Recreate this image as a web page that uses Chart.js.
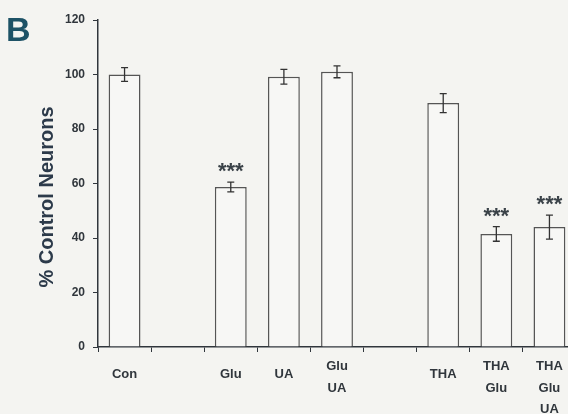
<!DOCTYPE html>
<html>
<head>
<meta charset="utf-8">
<script src="https://cdn.jsdelivr.net/npm/chart.js@4"></script>
<style>
  html, body { margin: 0; padding: 0; background: #f4f4f1; overflow: hidden; }
  #wrap { width: 576px; height: 414px; }
</style>
</head>
<body>
<div id="wrap"><canvas id="chart" width="576" height="414"></canvas></div>
<script>
// data
const groups = [['Con'], '', ['Glu'], ['UA'], ['Glu', 'UA'], '', ['THA'], ['THA', 'Glu'], ['THA', 'Glu', 'UA']];
const percentControl = [100, null, 58.7, 99.2, 101, null, 89.5, 41.5, 44];
const sem = [2.5, null, 1.8, 2.7, 2.2, null, 3.5, 2.7, 4.4];
const marks = ['', '', '***', '', '', '', '', '***', '***'];
const yTicks = [0, 20, 40, 60, 80, 100, 120];

const ink = '#30363c';
const fontFamily = '"Liberation Sans", Arial, sans-serif';

// error bars + significance stars
const errorBars = {
    id: 'errorBars',
    afterDatasetsDraw(chart) {
        const ctx = chart.ctx;
        const y = chart.scales.y;
        const bars = chart.getDatasetMeta(0).data;
        ctx.save();
        ctx.strokeStyle = '#333';
        ctx.lineWidth = 1.3;
        bars.forEach((bar, i) => {
            if (percentControl[i] == null) return;
            const x = bar.x;
            const top = y.getPixelForValue(percentControl[i] + sem[i]);
            const bot = y.getPixelForValue(percentControl[i] - sem[i]);
            ctx.beginPath();
            ctx.moveTo(x, top); ctx.lineTo(x, bot);
            ctx.moveTo(x - 3.5, top); ctx.lineTo(x + 3.5, top);
            ctx.moveTo(x - 3.5, bot); ctx.lineTo(x + 3.5, bot);
            ctx.stroke();
            if (marks[i]) {
                ctx.fillStyle = '#3a4248';
                ctx.font = 'bold 22px ' + fontFamily;
                ctx.textAlign = 'center';
                ctx.textBaseline = 'alphabetic';
                ctx.fillText(marks[i], x, top - 4);
            }
        });
        ctx.restore();
    }
};

// panel letter and y title
const labelsPlugin = {
    id: 'labelsPlugin',
    afterDraw(chart) {
        const ctx = chart.ctx;
        ctx.save();
        ctx.fillStyle = '#1d5266';
        ctx.font = 'bold 34px ' + fontFamily;
        ctx.textAlign = 'left';
        ctx.textBaseline = 'alphabetic';
        ctx.fillText('B', 6, 41);

        ctx.fillStyle = '#2c3a4a';
        ctx.font = 'bold 20px ' + fontFamily;
        ctx.translate(47, 197);
        ctx.rotate(-Math.PI / 2);
        ctx.textAlign = 'center';
        ctx.textBaseline = 'middle';
        ctx.fillText('% Control Neurons', 0, 0);
        ctx.restore();
    }
};

new Chart(document.getElementById('chart'), {
    type: 'bar',
    data: {
        labels: groups,
        datasets: [{
            data: percentControl,
            backgroundColor: '#f7f7f5',
            borderColor: '#555',
            borderWidth: 1.5,
            barPercentage: 0.6,
            categoryPercentage: 1
        }]
    },
    options: {
        responsive: false,
        animation: false,
        layout: { padding: { left: 0, right: 0, top: 20, bottom: 0 } },
        plugins: { legend: { display: false }, tooltip: { enabled: false } },
        scales: {
            x: {
                grid: { drawOnChartArea: false, drawTicks: true, tickLength: 5, color: ink, offset: true },
                border: { color: ink, width: 1.5 },
                ticks: {
                    color: ink,
                    padding: 4,
                    maxRotation: 0,
                    autoSkip: false,
                    // single-line labels sit a bit lower than stacked ones
                    font: (c) => ({
                        family: fontFamily, size: 13, weight: 'bold',
                        lineHeight: Array.isArray(groups[c.index]) && groups[c.index].length === 1 ? 2.85 : 1.65
                    })
                },
                afterFit(scale) { scale.height = 67; }
            },
            y: {
                min: 0,
                max: 120,
                afterBuildTicks(scale) { scale.ticks = yTicks.map(v => ({ value: v })); },
                grid: { drawOnChartArea: false, drawTicks: true, tickLength: 5, color: ink },
                border: { color: ink, width: 1.5 },
                ticks: {
                    color: ink,
                    padding: 8,
                    font: { family: fontFamily, size: 12, weight: 'bold' }
                },
                afterFit(scale) { scale.width = 98; }
            }
        }
    },
    plugins: [errorBars, labelsPlugin]
});
</script>
</body>
</html>
